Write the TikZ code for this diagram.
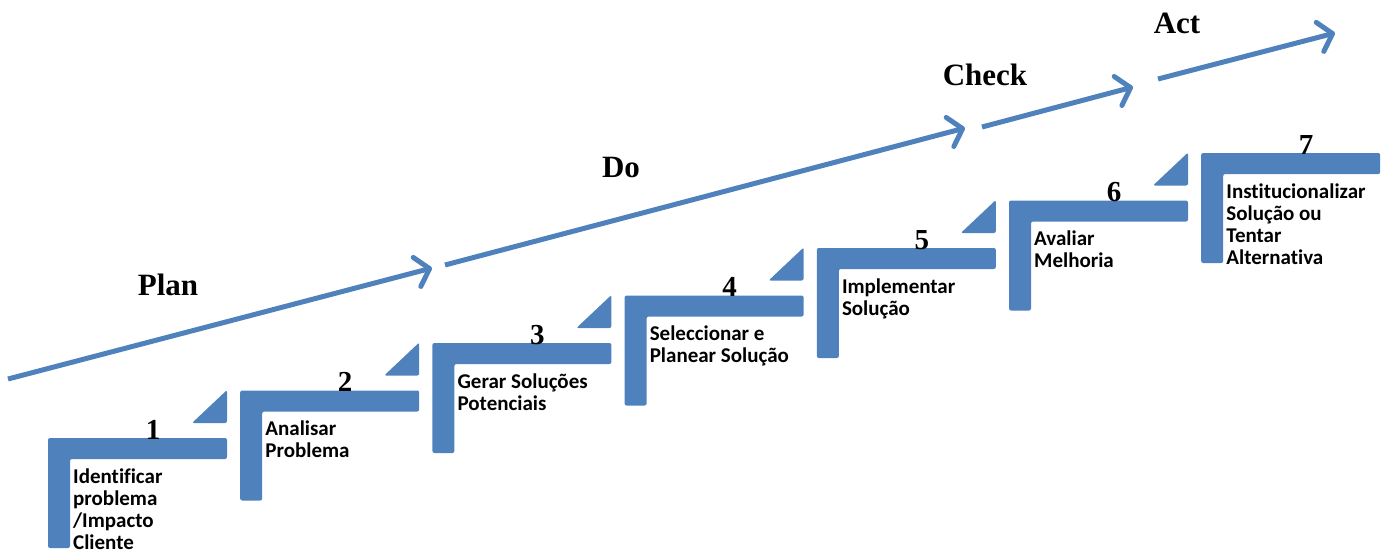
\documentclass[tikz,border=0pt]{standalone}
\usepackage{fontspec}
\setmainfont{Liberation Serif}
\newfontfamily\stepfont[Ligatures=NoCommon]{Carlito}
\usetikzlibrary{arrows.meta}
\definecolor{stepblue}{HTML}{4F81BD}

\begin{document}
\begin{tikzpicture}[x=1pt,y=-1pt,
  bar/.style={fill=stepblue, rounded corners=2pt},
  steptext/.style={anchor=north west, inner sep=0pt, align=left,
    font=\stepfont\bfseries\fontsize{21}{22}\selectfont},
  stepnum/.style={anchor=base, inner sep=0pt, font=\bfseries\fontsize{29}{29}\selectfont},
  phase/.style={anchor=base, inner sep=0pt, font=\bfseries\fontsize{31}{31}\selectfont},
  flow/.style={draw=stepblue, line width=5pt,
    -{Straight Barb[length=13pt,width=30pt,round]}}]

\useasboundingbox (0,0) rectangle (1389,555);

% staircase of steps: top bar, left post, number and a small triangle towards the next step
\foreach \k/\n/\txt in {
  0/1/{Identificar\\problema\\/Impacto\\Cliente},
  1/2/{Analisar\\Problema},
  2/3/{Gerar Soluções\\Potenciais},
  3/4/{Seleccionar e\\Planear Solução},
  4/5/{Implementar\\Solução},
  5/6/{Avaliar\\Melhoria},
  6/7/{Institucionalizar\\Solução ou\\Tentar\\Alternativa}} {
  \pgfmathsetmacro\L{48+192.2*\k}
  \pgfmathsetmacro\T{438-47.5*\k}
  \fill[bar] (\L,\T) -- (\L+179,\T) -- (\L+179,\T+21) -- (\L+22,\T+21)
    -- (\L+22,\T+110) -- (\L,\T+110) -- cycle;
  \ifnum\n<7
    \fill[bar] (\L+144,\T-15) -- (\L+179,\T-15) -- (\L+179,\T-48) -- cycle;
  \fi
  \node[stepnum] (n\n) at (\L+105,\T+1) {\n};
  \node[steptext] (s\n) at (\L+25,\T+27) {\rule{0pt}{18pt}\txt};
}

% PDCA flow arrow, split in four parts
\coordinate (p0) at (8,379);
\coordinate (p1) at (432,268);
\coordinate (p2) at (445,265);
\coordinate (p3) at (965,128);
\coordinate (p4) at (982,127);
\coordinate (p5) at (1133,87);
\coordinate (p6) at (1158,79);
\coordinate (p7) at (1335,33);
\draw[flow] (p0) -- (p1);
\draw[flow] (p2) -- (p3);
\draw[flow] (p4) -- (p5);
\draw[flow] (p6) -- (p7);

\node[phase] (plan)  at (168,295) {Plan};
\node[phase] (do)    at (621,177) {Do};
\node[phase] (check) at (985,85)  {Check};
\node[phase] (act)   at (1177,33) {Act};
\end{tikzpicture}
\end{document}
